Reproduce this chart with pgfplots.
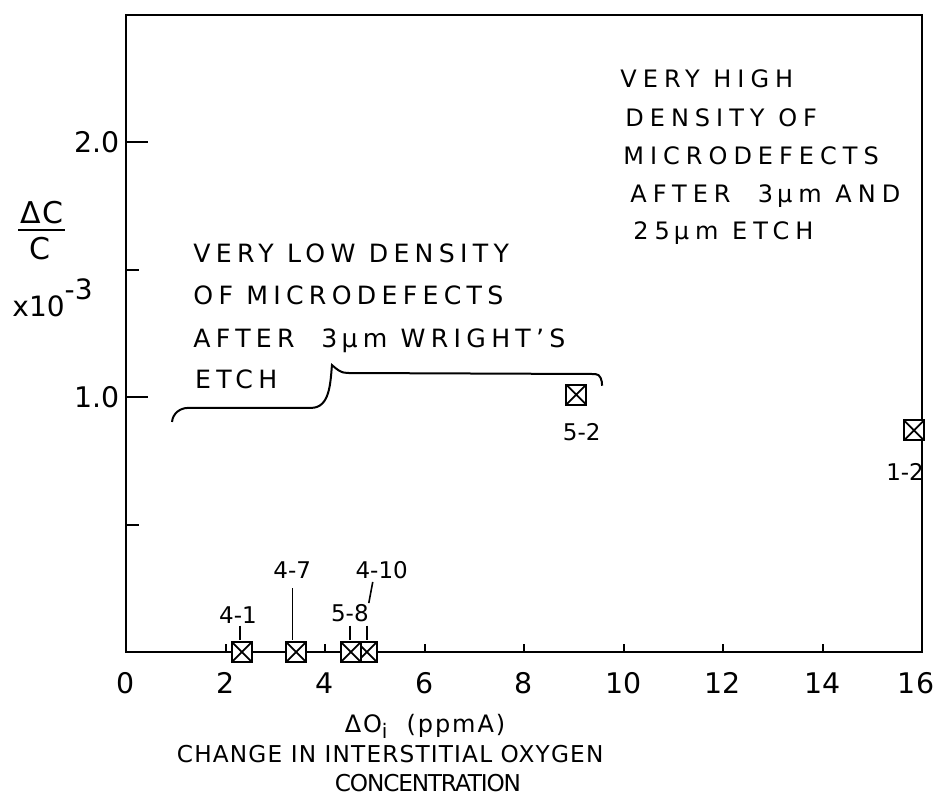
\documentclass[border=0pt]{standalone}
\usepackage{fontspec}
\setmainfont{DejaVu Sans}
\usepackage{pgfplots}
\pgfplotsset{compat=1.18}
\newcommand\LS[1]{\addfontfeatures{LetterSpace=#1}}
\pgfdeclareplotmark{boxx}{%
  \pgfpathrectangle{\pgfqpoint{-\pgfplotmarksize}{-\pgfplotmarksize}}{\pgfqpoint{2\pgfplotmarksize}{2\pgfplotmarksize}}%
  \pgfusepathqfillstroke
  \pgfpathmoveto{\pgfqpoint{-\pgfplotmarksize}{-\pgfplotmarksize}}%
  \pgfpathlineto{\pgfqpoint{\pgfplotmarksize}{\pgfplotmarksize}}%
  \pgfpathmoveto{\pgfqpoint{-\pgfplotmarksize}{\pgfplotmarksize}}%
  \pgfpathlineto{\pgfqpoint{\pgfplotmarksize}{-\pgfplotmarksize}}%
  \pgfusepathqstroke}
\begin{document}
\begin{tikzpicture}
\begin{axis}[
  scale only axis, width=398pt, height=318.5pt,
  xmin=0, xmax=16, ymin=0, ymax=2.5,
  clip=false,
  axis line style={line width=1pt},
  tick style={line width=1pt, black},
  tick align=inside,
  xtick={0,2,...,16},
  xticklabels={0,2,4,6,8,10,12,14,{\hspace*{-6pt}16}},
  xtick pos=left, ytick pos=left,
  ytick={1,2}, yticklabels={1.0,2.0},
  minor ytick={0.5,1.5},
  major tick length=11pt,
  minor tick length=6.5pt,
  xtick style={/pgfplots/major tick length=4pt},
  /pgf/number format/assume math mode=true,
  ticklabel style={font=\fontsize{14.2}{15}\selectfont, inner sep=0pt},
  xticklabel style={yshift=-10pt},
  yticklabel style={xshift=-3pt},
]
\coordinate (O) at (rel axis cs:0,0);
\addplot[only marks, mark=boxx, mark size=5pt,
  mark options={fill=white, draw=black, line width=0.9pt, solid}]
  coordinates {(2.33,0) (3.42,0) (4.84,0) (4.52,0) (9.05,1.01) (15.84,0.87)};

% point labels
\begin{scope}[every node/.style={inner sep=0pt, anchor=base, font=\fontsize{11.5}{12}\selectfont}]
\node at (axis cs:2.25,0.112) {4-1};
\node at (axis cs:3.34,0.289) {4-7};
\node at (axis cs:4.50,0.119) {5-8};
\node at (axis cs:5.14,0.290) {4-10};
\node at (axis cs:9.16,0.832) {5-2};
\node at (axis cs:15.66,0.675) {1-2};
\end{scope}
\draw[line width=0.8pt] (axis cs:2.29,0.104) -- (axis cs:2.29,0.047);
\draw[line width=0.8pt] (axis cs:3.35,0.251) -- (axis cs:3.35,0.047);
\draw[line width=0.8pt] (axis cs:4.50,0.104) -- (axis cs:4.50,0.047);
\draw[line width=0.8pt] (axis cs:4.96,0.275) -- (axis cs:4.88,0.192);
\draw[line width=0.8pt] (axis cs:4.84,0.104) -- (axis cs:4.84,0.047);

% brace
\draw[line width=1pt] (axis cs:0.925,0.903) to[out=85,in=180] (axis cs:1.25,0.958)
  -- (axis cs:3.72,0.958) to[out=0,in=-95] (axis cs:4.14,1.126)
  to[out=-40,in=180] (axis cs:4.45,1.095) -- (axis cs:9.43,1.091)
  to[out=0,in=90] (axis cs:9.57,1.045);

% left text block
\begin{scope}[every node/.style={inner sep=0pt, anchor=base west, font=\fontsize{12.6}{14}\selectfont\LS{21}}]
\node at (axis cs:1.347,1.527) {VERY LOW DENSITY};
\node at (axis cs:1.347,1.362) {OF MICRODEFECTS};
\node at (axis cs:1.347,1.197) {AFTER\ \ 3\,µm WRIGHT'S};
\node at (axis cs:1.380,1.036) {ETCH};
\end{scope}
% right text block
\begin{scope}[every node/.style={inner sep=0pt, anchor=base west, font=\fontsize{12}{14}\selectfont\LS{25}}]
\node at (axis cs:9.93,2.217) {VERY HIGH};
\node at (axis cs:10.03,2.064) {DENSITY OF};
\node at (axis cs:9.99,1.915) {MICRODEFECTS};
\node at (axis cs:10.13,1.766) {AFTER\ \ 3\,µm AND};
\node at (axis cs:10.19,1.617) {25\,µm ETCH};
\end{scope}

% y label
\node[inner sep=0pt, anchor=base, font=\fontsize{15}{16}\selectfont\LS{6}] at (axis cs:-1.69,1.680) {ΔC};
\draw[line width=1pt] (axis cs:-2.17,1.656) -- (axis cs:-1.23,1.656);
\node[inner sep=0pt, anchor=base, font=\fontsize{15}{16}\selectfont] at (axis cs:-1.73,1.542) {C};
\node[inner sep=0pt, anchor=base west, font=\fontsize{14}{16}\selectfont] at (axis cs:-2.29,1.315) {x10\raisebox{8.5pt}{-3}};

% x label
\node[inner sep=0pt, anchor=base, font=\fontsize{12}{14}\selectfont\LS{8}] at (axis cs:6.01,-0.314) {ΔO\raisebox{-3pt}{\fontsize{10}{11}\selectfont i}\ \ (ppmA)};
\node[inner sep=0pt, anchor=base, font=\fontsize{11.6}{14}\selectfont\LS{5}] at (axis cs:5.31,-0.432) {CHANGE IN INTERSTITIAL OXYGEN};
\node[inner sep=0pt, anchor=base, font=\fontsize{11.6}{14}\selectfont\LS{-5}] at (axis cs:6.07,-0.549) {CONCENTRATION};
\end{axis}
\pgfresetboundingbox
\path ([shift={(-63pt,-78pt)}]O) rectangle ([shift={(405pt,326pt)}]O);
\end{tikzpicture}
\end{document}
